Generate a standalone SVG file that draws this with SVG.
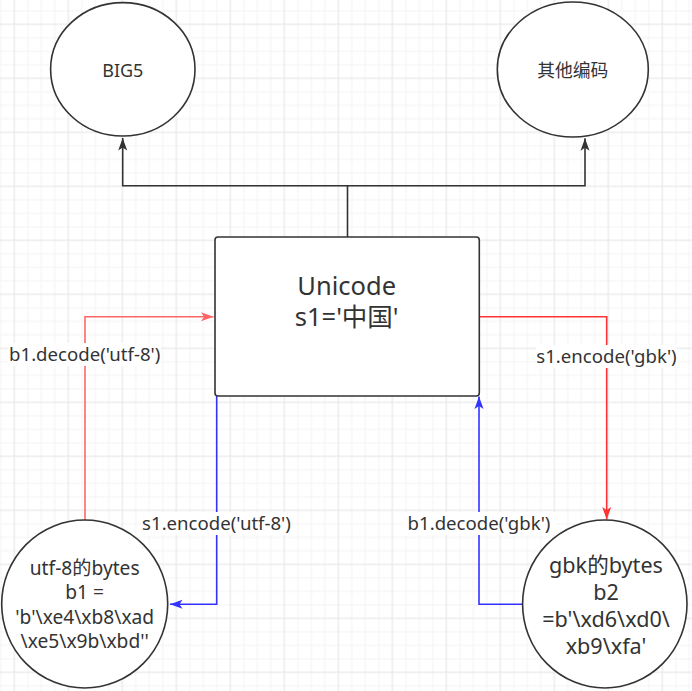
<svg xmlns="http://www.w3.org/2000/svg" width="692" height="691" viewBox="0 0 692 691">
<style>
text{font-family:"Noto Sans","Noto Sans CJK SC",sans-serif;fill:#333;text-anchor:middle}
.node{fill:#fff;stroke:#333;stroke-width:1.6}
.edge{fill:none;stroke-width:1.6}
.lbl{font-size:18.6px}
.lblbg{fill:#fff}
</style>
<defs>
<pattern id="grid" patternUnits="userSpaceOnUse" x="7.55" y="17.55" width="54" height="54">
<rect x="0" y="0" width="54" height="54" fill="#fff"/>
<g fill="#f4f4f4">
<rect x="19.75" y="0" width="1" height="54"/><rect x="33.25" y="0" width="1" height="54"/><rect x="46.75" y="0" width="1" height="54"/>
<rect x="0" y="19.75" width="54" height="1"/><rect x="0" y="33.25" width="54" height="1"/><rect x="0" y="46.75" width="54" height="1"/>
</g>
<g fill="#e4e4e4">
<rect x="6.25" y="0" width="1" height="54"/><rect x="0" y="6.25" width="54" height="1"/>
</g>
</pattern>
<marker id="aDark" viewBox="-13 -6 14 12" refX="0" refY="0" markerWidth="14" markerHeight="12" markerUnits="userSpaceOnUse" orient="auto"><path d="M0,0 L-12.5,-4.5 L-9.5,0 L-12.5,4.5 Z" fill="#333"/></marker>
<marker id="aRedL" viewBox="-13 -6 14 12" refX="0" refY="0" markerWidth="14" markerHeight="12" markerUnits="userSpaceOnUse" orient="auto"><path d="M0,0 L-12.5,-4.5 L-9.5,0 L-12.5,4.5 Z" fill="#ff6666"/></marker>
<marker id="aRed" viewBox="-13 -6 14 12" refX="0" refY="0" markerWidth="14" markerHeight="12" markerUnits="userSpaceOnUse" orient="auto"><path d="M0,0 L-12.5,-4.5 L-9.5,0 L-12.5,4.5 Z" fill="#ff3333"/></marker>
<marker id="aBlue" viewBox="-13 -6 14 12" refX="0" refY="0" markerWidth="14" markerHeight="12" markerUnits="userSpaceOnUse" orient="auto"><path d="M0,0 L-12.5,-4.5 L-9.5,0 L-12.5,4.5 Z" fill="#3333ff"/></marker>
</defs>
<rect x="0" y="0" width="692" height="691" fill="url(#grid)"/>

<g id="connectors">
<path class="edge" stroke="#333" d="M347.5,237 V185.7 H122.7 V138" marker-end="url(#aDark)"/>
<path class="edge" stroke="#333" d="M347.5,185.7 H585 V138.3" marker-end="url(#aDark)"/>
<path class="edge" stroke="#ff6666" d="M85,520 V316.7 H213.5" marker-end="url(#aRedL)"/>
<path class="edge" stroke="#ff3333" d="M480,316.7 H606.7 V519.5" marker-end="url(#aRed)"/>
<path class="edge" stroke="#3333ff" d="M216.7,394 V604.3 H170" marker-end="url(#aBlue)"/>
<path class="edge" stroke="#3333ff" d="M523,604.3 H479 V396.5" marker-end="url(#aBlue)"/>
<g id="label-b1-decode-utf8">
<rect class="lblbg" x="8" y="343" width="153" height="23"/>
<text class="lbl" x="84.7" y="361">b1.decode('utf-8')</text>
</g>
<g id="label-s1-encode-gbk">
<rect class="lblbg" x="536" y="345" width="141" height="23"/>
<text class="lbl" x="606.5" y="363.3">s1.encode('gbk')</text>
</g>
<g id="label-s1-encode-utf8">
<rect class="lblbg" x="141" y="512" width="151" height="23"/>
<text class="lbl" x="216.5" y="530">s1.encode('utf-8')</text>
</g>
<g id="label-b1-decode-gbk">
<rect class="lblbg" x="403" y="512" width="153" height="23"/>
<text class="lbl" x="479" y="530">b1.decode('gbk')</text>
</g>
</g>

<g id="node-big5">
<ellipse class="node" cx="122.8" cy="69.3" rx="72.2" ry="66.7"/>
<text x="122.8" y="77.3" font-size="18">BIG5</text>
</g>
<g id="node-other">
<ellipse class="node" cx="572.8" cy="69.5" rx="75.5" ry="67.5"/>
<text x="572.8" y="76.5" font-size="17.8">其他编码</text>
</g>
<g id="node-unicode">
<rect class="node" x="215" y="237" width="264.3" height="159" rx="3" ry="3"/>
<text x="346.7" y="295" font-size="25.5">Unicode</text>
<text x="346.7" y="326" font-size="25.5">s1='中国'</text>
</g>
<g id="node-utf8">
<ellipse class="node" cx="84.7" cy="604" rx="83" ry="84"/>
<text font-size="19.2" x="84.7" y="574.6">utf-8的bytes</text>
<text font-size="19.2" x="84.7" y="599.3">b1 =</text>
<text font-size="19.2" x="84.7" y="623.8">'b'\xe4\xb8\xad</text>
<text font-size="19.2" x="84.7" y="648.2">\xe5\x9b\xbd''</text>
</g>
<g id="node-gbk">
<ellipse class="node" cx="604.8" cy="604" rx="82.2" ry="84"/>
<text font-size="21.6" x="606" y="573.3">gbk的bytes</text>
<text font-size="21.6" x="606" y="600">b2</text>
<text font-size="21.6" x="606" y="627">=b'\xd6\xd0\</text>
<text font-size="21.6" x="606" y="654">xb9\xfa'</text>
</g>
</svg>
